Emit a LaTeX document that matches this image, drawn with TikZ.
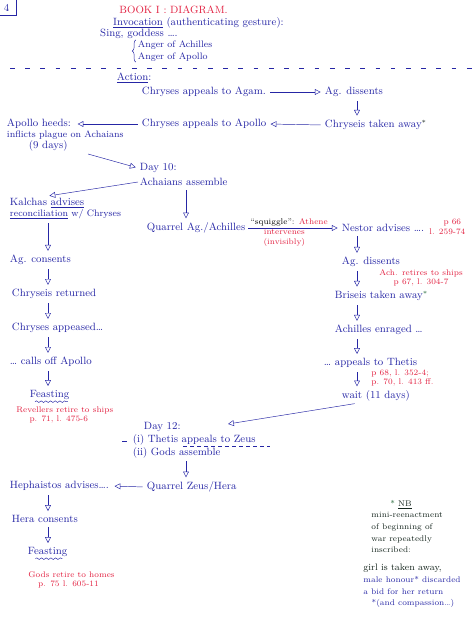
\documentclass[tikz,border=0pt]{standalone}
\usetikzlibrary{arrows.meta,calc,decorations.pathmorphing,decorations.pathreplacing}
\definecolor{ink}{RGB}{38,38,165}
\definecolor{redink}{RGB}{226,32,64}
\definecolor{darkink}{RGB}{22,38,30}
\definecolor{greenink}{RGB}{30,100,50}
\begin{document}
\begin{tikzpicture}[x=0.3mm, y=-0.3mm,
		txt/.style={text=ink, font=\small, anchor=west, inner sep=1.5pt},
		small/.style={txt, font=\footnotesize},
		ref/.style={text=redink, font=\scriptsize, inner sep=1pt},
		flow/.style={draw=ink, -{Triangle[open,length=5pt,width=5pt]}, shorten <=2pt, shorten >=2pt},
		squig/.style={draw=ink, decorate, decoration={snake, amplitude=0.7pt, segment length=4pt}}]
	\useasboundingbox (0,0) rectangle (474,627);
	\coordinate (lcol) at (48,0);
	\coordinate (mcol) at (186,0);
	\coordinate (rcol) at (357,0);

	% heading
	\node[txt] (pg) at (2,8) {4};
	\draw[ink] (0,15) -| (16,0);
	\node[ref, font=\small, anchor=west] (title) at (118,10) {BOOK I : DIAGRAM.};
	\node[txt, inner sep=0pt] (invoc) at (113,23) {\underline{Invocation} (authenticating gesture):};
	\node[txt, inner sep=0pt] (sing) at (100,34) {Sing, goddess \dots.};
	\node[small, inner sep=0.5pt] (achl) at (137,45) {Anger of Achilles};
	\node[small, inner sep=0.5pt] (apol) at (137,57) {Anger of Apollo};
	\draw[ink, decorate, decoration={brace, amplitude=3pt}] ([xshift=-1pt]apol.south west) -- ([xshift=-1pt]achl.north west);
	\draw[ink, dash pattern=on 4pt off 9pt] (10,68) -- (474,68);
	\node[txt] (action) at (115,78) {\underline{Action}:};

	% first strand
	\node[txt] (chag) at (140,92) {Chryses appeals to Agam.};
	\node[txt] (agdis) at (323,92) {Ag. dissents};
	\node[txt] (chtaken) at (323,125) {Chryseis taken away{\color{darkink}$^{*}$}};
	\node[txt] (chapo) at (140,124) {Chryses appeals to Apollo};
	\node[txt] (heeds) at (5,124) {Apollo heeds:};
	\node[small] (plague) at (5,135) {inflicts plague on Achaians};
	\node[txt] (nine) at (27,146) {(9 days)};
	\coordinate (plg) at (88,154);
	\draw[flow] (chag) -- (agdis);
	\draw[flow] (agdis.south -| rcol) -- (chtaken.north -| rcol);
	\draw[flow] (chtaken.west) -- (chapo.east);
	\draw[flow, shorten >=4pt] (chapo.west) -- (heeds.east);

	% day 10
	\node[txt] (day10) at (138,168) {Day 10:};
	\node[txt] (achass) at (138,182) {Achaians assemble};
	\draw[flow, shorten <=0pt] (plg) -- (day10.west);
	\node[txt] (kal) at (8,203) {Kalchas \underline{advises}};
	\node[small] (recon) at (8,214) {\underline{reconciliation} w/ Chryses};
	\draw[flow, shorten <=0pt] (achass.west) -- (kal.north);
	\node[txt] (quar1) at (145,228) {Quarrel Ag./Achilles};
	\draw[flow] (achass.south -| mcol) -- (quar1.north -| mcol);

	% left strand
	\node[txt] (agcon) at (8,260) {Ag. consents};
	\node[txt] (chret) at (10,294) {Chryseis returned};
	\node[txt] (chapp) at (10,328) {Chryses appeased\dots};
	\node[txt] (calls) at (8,362) {\dots\ calls off Apollo};
	\node[txt] (feast1) at (28,395) {Feasting};
	\draw[squig] ([xshift=6pt]feast1.south west) -- ([xshift=-3pt]feast1.south east);
	\node[ref, align=left, anchor=north west] (revel) at (15,405) {Revellers retire to ships\\\hspace{1.6em}p. 71, l. 475-6};
	\draw[flow] (recon.south -| lcol) -- (agcon.north -| lcol);
	\draw[flow] (agcon.south -| lcol) -- (chret.north -| lcol);
	\draw[flow] (chret.south -| lcol) -- (chapp.north -| lcol);
	\draw[flow] (chapp.south -| lcol) -- (calls.north -| lcol);
	\draw[flow] (calls.south -| lcol) -- (feast1.north -| lcol);

	% right strand
	\node[txt] (nestor) at (340,228) {Nestor advises \dots.};
	\node[ref, align=center, anchor=west] (p66) at (428,227) {\hspace{1.2em}p 66\\l. 259-74};
	\draw[flow, shorten <=1pt] (quar1.east) -- (nestor.west)
		node[pos=0.02, anchor=south west, inner sep=1pt, font=\scriptsize] {``squiggle'': \textcolor{redink}{Athene}}
		node[pos=0.4, below, ref, align=center] {intervenes\\(invisibly)};
	\node[txt] (agdis2) at (340,262) {Ag. dissents};
	\node[ref, align=center, anchor=west] (retire) at (378,278) {Ach. retires to ships\\p 67, l. 304-7};
	\node[txt] (bris) at (333,296) {Briseis taken away{\color{greenink}$^{*}$}};
	\node[txt] (enr) at (333,330) {Achilles enraged \dots};
	\node[txt] (appth) at (322,363) {\dots\ appeals to Thetis};
	\node[ref, align=left, anchor=west] (p68) at (370,378) {p 68, l. 352-4;\\p. 70, l. 413 ff.};
	\node[txt] (wait) at (340,396) {wait (11 days)};
	\draw[flow] (nestor.south -| rcol) -- (agdis2.north -| rcol);
	\draw[flow] (agdis2.south -| rcol) -- (bris.north -| rcol);
	\draw[flow] (bris.south -| rcol) -- (enr.north -| rcol);
	\draw[flow] (enr.south -| rcol) -- (appth.north -| rcol);
	\draw[flow] (appth.south -| rcol) -- (wait.north -| rcol);

	% day 12
	\node[txt] (day12) at (142,427) {Day 12:};
	\coordinate (d12in) at (228,424);
	\draw[flow, shorten >=0pt] (wait.south -| rcol) -- (d12in);
	\node[txt, inner sep=0.5pt] (thetis) at (132,440) {(i) Thetis appeals to Zeus};
	\node[txt, inner sep=0.5pt] (gods) at (132,453) {(ii) Gods assemble};
	\draw[ink] (122,441) -- (127,441);
	\draw[ink, dash pattern=on 3pt off 3pt] (183,446) -- (270,446);
	\node[txt] (quar2) at (145,487) {Quarrel Zeus/Hera};
	\draw[flow] (gods.south -| mcol) -- (quar2.north -| mcol);
	\node[txt] (heph) at (8,486) {Hephaistos advises\dots.};
	\draw[flow, shorten >=3pt] (quar2.west) -- (heph.east);
	\node[txt] (hera) at (10,519) {Hera consents};
	\node[txt] (feast2) at (26,552) {Feasting};
	\draw[squig] ([xshift=8pt]feast2.south west) -- ([xshift=-6pt]feast2.south east);
	\node[ref, align=left, anchor=north west] (home) at (27,570) {Gods retire to homes\\\hspace{1.2em}p. 75 l. 605-11};
	\draw[flow] (heph.south -| lcol) -- (hera.north -| lcol);
	\draw[flow] (hera.south -| lcol) -- (feast2.north -| lcol);

	% note
	\node[text=darkink, font=\scriptsize, inner sep=1pt] (nb) at (401,505) {\textcolor{greenink}{*} \underline{NB}};
	\node[text=darkink, font=\scriptsize, align=left, anchor=north west, inner sep=1pt] (nbtxt) at (370,511)
		{mini-reenactment\\[2pt]of beginning of\\[2pt]war repeatedly\\[2pt]inscribed:};
	\node[text=darkink, font=\footnotesize, anchor=west, inner sep=1pt] (girl) at (362,568) {girl is taken away,};
	\node[text=ink, font=\scriptsize, align=left, anchor=north west, inner sep=1pt] (male) at (362,575)
		{male honour* discarded\\[2pt]a bid for her return\\[2pt]\hspace{1em}*(and compassion\dots)};
\end{tikzpicture}
\end{document}
